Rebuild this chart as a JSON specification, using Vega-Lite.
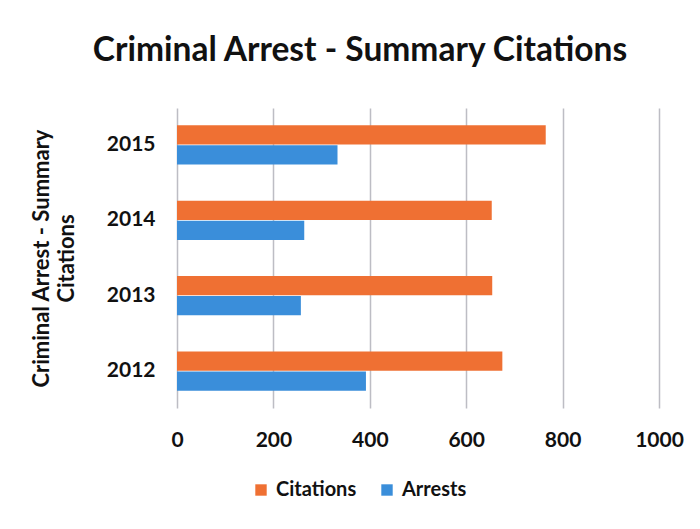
{
  "$schema": "https://vega.github.io/schema/vega-lite/v6.json",
  "autosize": "none",
  "width": 482,
  "height": 300,
  "padding": {"left": 177, "top": 108, "right": 41, "bottom": 121},
  "background": "white",
  "title": {
    "text": "Criminal Arrest - Summary Citations",
    "font": "Lato",
    "fontSize": 33.5,
    "fontWeight": "bold",
    "color": "#111111",
    "anchor": "middle",
    "dx": -58,
    "offset": 40
  },
  "data": {
    "values": [
      {"year": "2015", "series": "Citations", "value": 765},
      {"year": "2015", "series": "Arrests", "value": 333},
      {"year": "2014", "series": "Citations", "value": 653},
      {"year": "2014", "series": "Arrests", "value": 264},
      {"year": "2013", "series": "Citations", "value": 654},
      {"year": "2013", "series": "Arrests", "value": 257},
      {"year": "2012", "series": "Citations", "value": 675},
      {"year": "2012", "series": "Arrests", "value": 392}
    ]
  },
  "mark": {"type": "bar"},
  "encoding": {
    "y": {
      "field": "year",
      "type": "nominal",
      "sort": ["2015", "2014", "2013", "2012"],
      "scale": {"paddingInner": 0.48, "paddingOuter": 0.23},
      "axis": {
        "title": ["Criminal Arrest - Summary", "Citations"],
        "titleFont": "Lato",
        "titleFontSize": 22,
        "titleFontWeight": "bold",
        "titleColor": "#111111",
        "titlePadding": 28,
        "titleLineHeight": 25,
        "labelFont": "Lato",
        "labelFontSize": 21,
        "labelFontWeight": "bold",
        "labelColor": "#111111",
        "labelPadding": 22,
        "ticks": false,
        "domain": false
      }
    },
    "yOffset": {
      "field": "series",
      "type": "nominal",
      "sort": ["Citations", "Arrests"],
      "scale": {"paddingInner": 0.04}
    },
    "x": {
      "field": "value",
      "type": "quantitative",
      "scale": {"domain": [0, 1000], "nice": false},
      "axis": {
        "title": null,
        "values": [0, 200, 400, 600, 800, 1000],
        "format": "d",
        "labelFlush": false,
        "labelFont": "Lato",
        "labelFontSize": 21,
        "labelFontWeight": "bold",
        "labelColor": "#111111",
        "labelPadding": 21,
        "ticks": false,
        "domain": false,
        "grid": true,
        "gridColor": "#bdbdc4",
        "gridWidth": 1.5
      }
    },
    "color": {
      "field": "series",
      "type": "nominal",
      "sort": ["Citations", "Arrests"],
      "scale": {"domain": ["Citations", "Arrests"], "range": ["#EF7033", "#3A8EDA"]},
      "legend": {
        "title": null,
        "orient": "none",
        "direction": "horizontal",
        "legendX": 74,
        "legendY": 372,
        "symbolType": "square",
        "symbolSize": 130,
        "symbolStrokeWidth": 0,
        "labelFont": "Lato",
        "labelFontSize": 20,
        "labelFontWeight": "bold",
        "labelColor": "#111111",
        "columnPadding": 20,
        "labelOffset": 5
      }
    }
  },
  "config": {
    "view": {"stroke": null}
  }
}
